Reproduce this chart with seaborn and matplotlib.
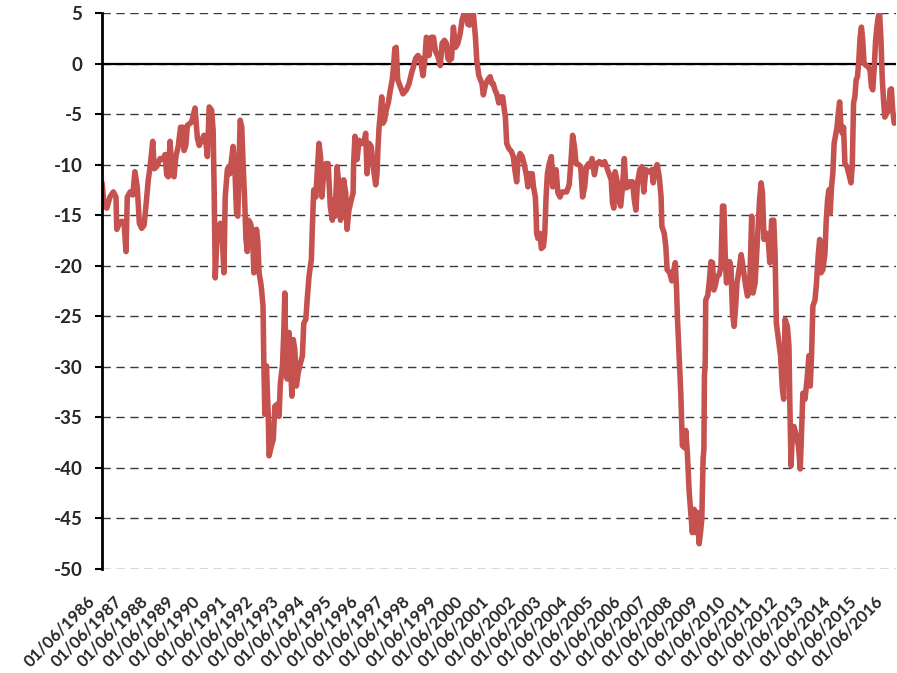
import pandas as pd
import seaborn as sns
import matplotlib.pyplot as plt
from matplotlib import transforms

# Dates en années décimales (01/06 = année + 5/12) et valeurs
years = [
    1986.42, 1986.50, 1986.60, 1986.72, 1986.85, 1986.95, 1986.98, 1987.08, 1987.17, 1987.26,
    1987.33, 1987.38, 1987.49, 1987.59, 1987.67, 1987.76, 1987.84, 1987.93, 1988.02, 1988.09,
    1988.18, 1988.25, 1988.35, 1988.41, 1988.50, 1988.63, 1988.73, 1988.82, 1988.88, 1988.94,
    1989.01, 1989.08, 1989.16, 1989.23, 1989.32, 1989.41, 1989.49, 1989.54, 1989.61, 1989.67,
    1989.83, 1989.96, 1990.05, 1990.12, 1990.21, 1990.30, 1990.37, 1990.43, 1990.50, 1990.59,
    1990.65, 1990.69, 1990.73, 1990.78, 1990.84, 1990.93, 1991.00, 1991.06, 1991.11, 1991.19,
    1991.24, 1991.29, 1991.35, 1991.41, 1991.48, 1991.54, 1991.59, 1991.64, 1991.68, 1991.74,
    1991.79, 1991.85, 1991.90, 1991.95, 1992.00, 1992.07, 1992.15, 1992.20, 1992.25, 1992.30,
    1992.35, 1992.40, 1992.48, 1992.55,
    1992.58, 1992.62, 1992.68, 1992.75, 1992.78, 1992.87, 1992.94, 1993.00, 1993.09, 1993.16,
    1993.21, 1993.29, 1993.34, 1993.38, 1993.42, 1993.47, 1993.54, 1993.59, 1993.65, 1993.70,
    1993.76, 1993.82, 1993.89, 1993.95, 1994.05, 1994.10, 1994.18, 1994.23, 1994.30, 1994.35,
    1994.39, 1994.43, 1994.48, 1994.56, 1994.61, 1994.68, 1994.74, 1994.79, 1994.86, 1994.94,
    1995.03, 1995.11, 1995.19, 1995.24, 1995.29, 1995.37, 1995.42, 1995.50, 1995.57, 1995.62,
    1995.70, 1995.75, 1995.82, 1995.91, 1995.98, 1996.00, 1996.05, 1996.13, 1996.21, 1996.29,
    1996.38, 1996.46, 1996.51, 1996.59, 1996.67, 1996.76, 1996.84, 1996.89, 1996.93, 1996.97,
    1997.02, 1997.07, 1997.12, 1997.18, 1997.24, 1997.32, 1997.40, 1997.47, 1997.52, 1997.57,
    1997.62, 1997.68, 1997.75, 1997.88, 1998.01, 1998.11, 1998.20, 1998.28, 1998.36, 1998.45,
    1998.54, 1998.64, 1998.71, 1998.77, 1998.84,
    1998.87, 1998.96, 1999.04, 1999.12, 1999.21, 1999.30, 1999.37, 1999.46, 1999.53, 1999.59,
    1999.65, 1999.73, 1999.80, 1999.88, 1999.97, 2000.06, 2000.13, 2000.21, 2000.29, 2000.35,
    2000.41, 2000.49, 2000.56, 2000.64, 2000.69, 2000.77, 2000.83, 2000.89, 2000.94, 2001.02,
    2001.11, 2001.20, 2001.27, 2001.32, 2001.38, 2001.45, 2001.53, 2001.60, 2001.68, 2001.74,
    2001.78, 2001.83, 2001.91, 2002.01, 2002.08, 2002.14, 2002.21, 2002.26, 2002.34, 2002.42,
    2002.49, 2002.57, 2002.64, 2002.69, 2002.80, 2002.85, 2002.92, 2002.95, 2002.97, 2003.02,
    2003.10, 2003.15, 2003.23, 2003.28, 2003.33, 2003.38, 2003.45, 2003.53, 2003.58, 2003.64,
    2003.71, 2003.78, 2003.86, 2003.94, 2004.02, 2004.11, 2004.21, 2004.29, 2004.34, 2004.41,
    2004.47, 2004.57, 2004.65, 2004.72, 2004.80, 2004.87, 2004.95,
    2005.00, 2005.08, 2005.17, 2005.25, 2005.36, 2005.46, 2005.56, 2005.63, 2005.74, 2005.81,
    2005.86, 2005.91, 2005.96, 2006.04, 2006.09, 2006.17, 2006.24, 2006.31, 2006.37, 2006.45,
    2006.52, 2006.62, 2006.69, 2006.75, 2006.81, 2006.90, 2006.98, 2007.05, 2007.13, 2007.21,
    2007.28, 2007.36, 2007.41, 2007.48, 2007.56, 2007.64, 2007.71, 2007.74, 2007.83, 2007.89,
    2007.94, 2008.04, 2008.12, 2008.17, 2008.25, 2008.30, 2008.33, 2008.40, 2008.46, 2008.52,
    2008.60, 2008.65, 2008.71, 2008.78, 2008.84, 2008.90, 2008.97, 2009.03, 2009.09, 2009.16,
    2009.21, 2009.26, 2009.31, 2009.34, 2009.36, 2009.39, 2009.41, 2009.49, 2009.54, 2009.61,
    2009.67, 2009.72, 2009.77, 2009.84, 2009.92, 2009.99, 2010.05, 2010.10, 2010.15, 2010.20,
    2010.27, 2010.32, 2010.37, 2010.43, 2010.49, 2010.55, 2010.60, 2010.68, 2010.76, 2010.83,
    2010.93, 2011.00,
    2011.08, 2011.16, 2011.21, 2011.29, 2011.38, 2011.46, 2011.52, 2011.57, 2011.63, 2011.72,
    2011.79, 2011.85, 2011.92, 2012.00, 2012.05, 2012.10, 2012.18, 2012.26, 2012.33, 2012.38,
    2012.43, 2012.52, 2012.58, 2012.61, 2012.66, 2012.71, 2012.77, 2012.83, 2012.94, 2013.01,
    2013.06, 2013.11, 2013.19, 2013.27, 2013.34, 2013.39, 2013.44, 2013.49, 2013.57, 2013.62,
    2013.70, 2013.75, 2013.80, 2013.87, 2013.95, 2014.00, 2014.05, 2014.10, 2014.15, 2014.20,
    2014.25, 2014.30, 2014.35, 2014.41, 2014.46, 2014.51, 2014.56, 2014.61, 2014.66, 2014.71,
    2014.79, 2014.86, 2014.94, 2014.99, 2015.04, 2015.09, 2015.14, 2015.19, 2015.24, 2015.29,
    2015.34, 2015.39, 2015.44, 2015.52, 2015.60, 2015.67, 2015.72, 2015.77, 2015.83, 2015.88,
    2015.93, 2015.98, 2016.03, 2016.08, 2016.13, 2016.18, 2016.23, 2016.31, 2016.38, 2016.43,
    2016.48, 2016.53, 2016.59,
]

values = [
    -11.8, -14.1, -14.3, -13.2, -12.7, -13.2, -16.4, -15.8, -15.6, -15.8,
    -18.6, -13.2, -12.7, -13.0, -10.7, -12.2, -15.8, -16.3, -16.0, -14.1,
    -11.5, -10.2, -7.7, -10.4, -10.2, -9.4, -9.5, -9.0, -11.0, -11.2,
    -7.7, -10.9, -11.2, -9.2, -8.2, -6.3, -6.3, -8.6, -8.1, -6.1,
    -5.8, -4.4, -7.4, -8.1, -7.6, -7.1, -7.7, -9.2, -4.3, -4.6,
    -6.6, -12.8, -21.2, -18.1, -16.1, -15.8, -17.3, -20.7, -13.2, -10.5,
    -10.2, -10.9, -9.5, -8.2, -10.5, -14.8, -15.1, -9.5, -5.6, -6.3,
    -9.9, -13.5, -17.4, -18.6, -15.5, -15.8, -16.8, -20.7, -18.8, -16.4,
    -17.6, -20.7, -22.0, -24.0,
    -29.6, -34.7, -29.9, -34.9, -38.8, -37.8, -37.2, -33.9, -33.7, -34.9,
    -31.6, -29.9, -26.6, -22.7, -29.9, -31.2, -26.6, -29.3, -32.9, -27.3,
    -28.3, -31.9, -30.6, -29.9, -28.9, -25.7, -25.3, -23.4, -21.1, -20.1,
    -19.4, -16.1, -12.5, -13.2, -10.9, -7.9, -9.2, -13.2, -10.9, -9.9,
    -9.9, -14.1, -15.5, -13.5, -15.1, -10.2, -11.5, -15.5, -14.8, -11.5,
    -12.8, -16.4, -14.5, -13.5, -12.8, -9.9, -7.2, -9.5, -7.6, -7.9,
    -7.9, -6.9, -10.9, -7.9, -8.2, -10.5, -12.0, -10.9, -8.2, -6.3,
    -4.9, -3.3, -5.9, -5.6, -4.6, -3.9, -2.6, -1.6, -0.3, 1.5,
    1.6, -1.6, -2.1, -3.0, -2.6, -2.0, -1.0, -0.3, 0.5, 0.8,
    0.5, -1.2, 0.3, 2.6, 2.3,
    0.8, 2.6, 2.6, 1.2, 0.7, -0.2, 2.0, 2.3, 2.0, 0.5,
    0.3, 0.5, 3.6, 1.6, 2.0, 3.0, 4.3, 5.0, 4.9, 3.9,
    3.8, 4.8, 4.9, 2.6, 0.3, -1.2, -1.6, -2.0, -3.1, -2.1,
    -1.6, -1.3, -2.0, -2.0, -2.6, -3.0, -3.9, -3.3, -3.3, -4.6,
    -5.3, -7.9, -8.4, -8.7, -9.2, -10.5, -11.7, -9.5, -8.9, -9.2,
    -9.9, -10.9, -12.2, -10.9, -10.9, -12.2, -13.2, -14.8, -16.8, -17.3,
    -16.8, -18.3, -18.1, -16.8, -13.2, -10.9, -9.9, -9.2, -12.2, -11.5,
    -10.5, -12.8, -13.2, -12.7, -12.7, -12.7, -12.0, -9.2, -7.1, -8.2,
    -9.9, -10.0, -10.2, -13.2, -12.2, -10.2, -9.9,
    -10.2, -9.4, -11.0, -9.9, -9.7, -10.0, -9.7, -10.2, -11.0, -11.5,
    -13.8, -14.3, -10.7, -11.7, -13.5, -14.1, -12.2, -9.4, -12.3, -12.2,
    -11.7, -11.7, -13.5, -14.5, -11.8, -10.5, -10.2, -12.7, -10.5, -10.7,
    -10.7, -10.5, -11.8, -10.5, -10.0, -11.2, -13.2, -16.1, -16.8, -18.1,
    -20.4, -20.7, -21.5, -20.7, -19.7, -22.4, -25.0, -29.0, -32.6, -37.8,
    -38.0, -36.3, -38.5, -42.4, -44.4, -46.4, -44.1, -46.4, -44.4, -47.5,
    -46.4, -45.1, -39.1, -38.2, -30.9, -29.6, -23.4, -22.9, -21.7, -19.6,
    -19.7, -22.4, -22.0, -21.1, -20.9, -20.1, -14.1, -14.1, -18.8, -21.7,
    -20.7, -19.6, -20.1, -24.7, -26.0, -24.0, -21.7, -20.4, -18.9, -20.1,
    -22.0, -23.0,
    -22.4, -15.1, -22.7, -21.7, -17.4, -13.5, -11.8, -12.8, -17.4, -16.8,
    -17.4, -19.7, -15.5, -15.5, -18.8, -25.7, -27.3, -28.9, -32.2, -33.2,
    -25.3, -26.0, -28.0, -33.2, -39.8, -36.5, -35.9, -36.5, -37.8, -40.1,
    -36.5, -32.6, -33.2, -31.2, -28.9, -31.9, -28.9, -24.0, -23.4, -22.0,
    -18.8, -17.4, -20.7, -20.4, -18.8, -15.5, -13.5, -12.5, -14.8, -12.2,
    -10.9, -7.9, -7.2, -6.3, -4.9, -3.8, -6.3, -6.9, -6.3, -9.9,
    -10.2, -10.9, -11.8, -10.2, -3.9, -3.3, -1.6, -1.3, 0.3, 2.6,
    3.6, 2.3, 0.0, -0.2, -0.3, -0.7, -2.3, -2.6, -0.3, 2.3,
    3.6, 4.6, 5.0, 2.6, -1.3, -3.6, -5.3, -4.9, -4.6, -2.6,
    -2.5, -4.6, -5.9,
]

tick_years = list(range(1986, 2017))
y_ticks = list(range(-50, 6, 5))

df = pd.DataFrame({"annee": years, "valeur": values})

sns.set_style("white")
plt.rcParams["font.family"] = ["Lato", "DejaVu Sans"]
plt.rcParams["axes.unicode_minus"] = False

fig = plt.figure(figsize=(8.97, 6.73), dpi=100)
ax = fig.add_axes([0.1137, 0.1545, 0.885, 0.8262])

# grille en pointillés + ligne du zéro
ax.grid(axis="y", color="#3a3a3a", linestyle=(0, (6, 4)), linewidth=1, zorder=1)
ax.grid(axis="x", visible=False)
ax.axhline(0, color="black", linewidth=1.6, zorder=2)

sns.lineplot(data=df, x="annee", y="valeur", estimator=None, color="#C65250",
             linewidth=4, ax=ax, zorder=3)
for ln in ax.get_lines():
    ln.set_solid_joinstyle("round")
    ln.set_solid_capstyle("round")

ax.set_xlim(1986 + 5 / 12, 2016.65)
ax.set_ylim(-50, 5)
ax.set_yticks(y_ticks)
ax.set_yticklabels([str(v) for v in y_ticks], fontsize=13.5, fontweight="bold")

ax.set_xticks([y + 5 / 12 for y in tick_years])
ax.set_xticklabels([f"01/06/{y}" for y in tick_years], rotation=45, ha="right",
                   va="top", rotation_mode="anchor", fontsize=12, fontweight="bold")

ax.tick_params(axis="x", length=0, pad=17)
ax.tick_params(axis="y", length=5, width=1.5, color="black", pad=9, left=True)
ax.set_xlabel("")
ax.set_ylabel("")

# décalage des étiquettes de dates vers la gauche (après tick_params)
offset = transforms.ScaledTranslation(-0.15, 0, fig.dpi_scale_trans)
for lab in ax.get_xticklabels():
    lab.set_transform(lab.get_transform() + offset)

for side in ["top", "right", "bottom"]:
    ax.spines[side].set_visible(False)
ax.spines["left"].set_color("black")
ax.spines["left"].set_linewidth(2)
ax.spines["left"].set_zorder(4)

fig.savefig("out.png", dpi=100)
